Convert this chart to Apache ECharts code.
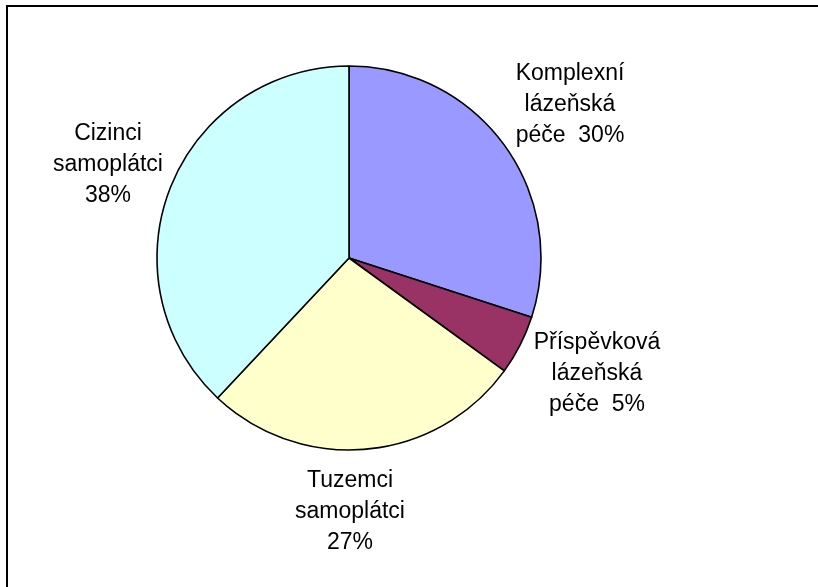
<!DOCTYPE html>
<html>
<head>
<meta charset="utf-8">
<script src="https://cdn.jsdelivr.net/npm/echarts@6/dist/echarts.min.js"></script>
<style>
  html, body { margin: 0; padding: 0; background: #fff; }
  #main { width: 818px; height: 587px; }
</style>
</head>
<body>
<div id="main"></div>
<script>
// slice names and shares (%), clockwise from 12 o'clock
var names = ['Komplexní\nlázeňská\npéče  30%', 'Příspěvková\nlázeňská\npéče  5%', 'Tuzemci\nsamoplátci\n27%', 'Cizinci\nsamoplátci\n38%'];
var values = [30, 5, 27, 38];
var colors = ['#9999FF', '#993366', '#FFFFCC', '#CCFFFF'];
// where each label's centre sits
var labelPos = [[570, 105], [597, 374], [350, 512], [108, 165]];

var myChart = echarts.init(document.getElementById('main'));

myChart.setOption({
    animation: false,
    graphic: [{
        type: 'rect',
        shape: { x: 7, y: 6, width: 830, height: 600 },
        style: { fill: 'none', stroke: '#000', lineWidth: 2 }
    }],
    series: [{
        type: 'pie',
        center: [349, 258],
        radius: 192,
        startAngle: 90,
        clockwise: true,
        data: values.map(function (v, i) {
            return { name: names[i], value: v, itemStyle: { color: colors[i] } };
        }),
        itemStyle: { borderColor: '#000', borderWidth: 1.6 },
        label: {
            show: true,
            position: 'outside',
            formatter: '{b}',
            color: '#000',
            fontFamily: 'Liberation Sans, Arial, sans-serif',
            fontSize: 23,
            lineHeight: 31,
            align: 'center'
        },
        labelLine: { show: false },
        labelLayout: function (params) {
            var p = labelPos[params.dataIndex];
            return { x: p[0], y: p[1], align: 'center', verticalAlign: 'middle' };
        },
        emphasis: { disabled: true }
    }]
});
</script>
</body>
</html>
